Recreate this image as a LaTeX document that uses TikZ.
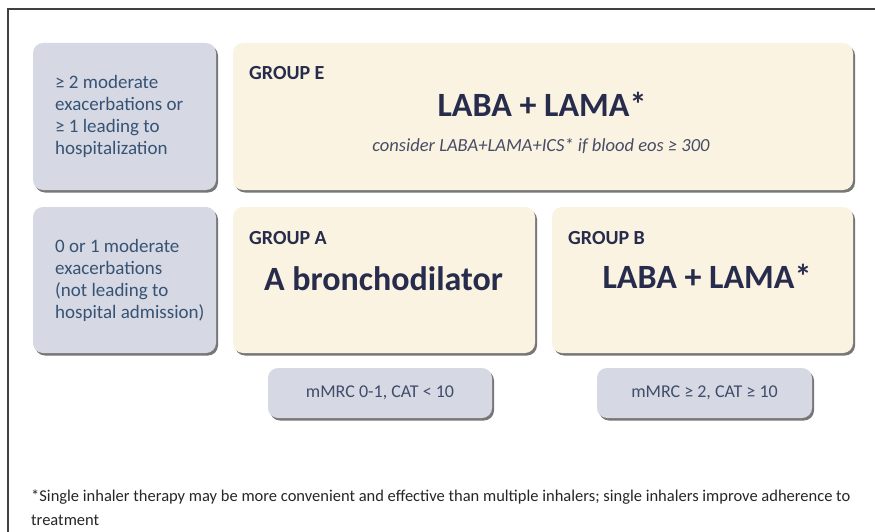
\documentclass[tikz,border=0pt]{standalone}
\usepackage{fontspec}
\setmainfont{Carlito}
\usetikzlibrary{shadows}
\definecolor{grayfill}{HTML}{D6D9E3}
\definecolor{creamfill}{HTML}{FBF3E1}
\definecolor{bluetext}{HTML}{365274}
\definecolor{navytext}{HTML}{272C4C}
\definecolor{mtext}{HTML}{3F4C6C}
\definecolor{shadowcol}{HTML}{4A4A4A}
\tikzset{
  boxbase/.style={rounded corners=10pt, draw=none,
    drop shadow={shadow xshift=2pt, shadow yshift=-2.5pt, fill=shadowcol, opacity=0.75}},
  graybox/.style={boxbase, fill=grayfill},
  creambox/.style={boxbase, fill=creamfill},
  sidetext/.style={text=bluetext, font=\fontsize{19}{22}\selectfont, align=left, anchor=west, inner sep=0pt},
  grouplabel/.style={text=navytext, font=\fontsize{20}{22}\selectfont\bfseries, anchor=west, inner sep=0pt},
  bigtext/.style={text=navytext, font=\fontsize{34}{38}\selectfont\bfseries, inner sep=0pt},
  mtextstyle/.style={text=mtext, font=\fontsize{18}{20}\selectfont, inner sep=0pt},
  foottext/.style={font=\fontsize{16.5}{25}\selectfont, anchor=base west, inner sep=0pt, text=black!85},
}
\begin{document}
\begin{tikzpicture}[x=1pt,y=-1pt]
\useasboundingbox (0,0) rectangle (875,532);
\fill[white] (0,0) rectangle (875,532);
\draw[line width=1.3pt, black!75] (8,532) -- (8,9) -- (875,9);

% boxes
\node[graybox, minimum width=183pt, minimum height=147pt] (L1) at (124.5,116.5) {};
\node[creambox, minimum width=620pt, minimum height=147pt] (E) at (543,116.5) {};
\node[graybox, minimum width=183pt, minimum height=146pt] (L2) at (124.5,280) {};
\node[creambox, minimum width=302pt, minimum height=146pt] (A) at (384,280) {};
\node[creambox, minimum width=301pt, minimum height=146pt] (B) at (702.5,280) {};
\node[graybox, minimum width=224pt, minimum height=50pt] (M1) at (380,393) {};
\node[graybox, minimum width=215pt, minimum height=50pt] (M2) at (704.5,393) {};

% side texts
\node[sidetext] (t1) at (55,116.5) {≥ 2 moderate\\exacerbations or\\≥ 1 leading to\\hospitalization};
\node[sidetext] (t2) at (55,280) {0 or 1 moderate\\exacerbations\\(not leading to\\hospital admission)};

% group E
\node[grouplabel, anchor=base west] (gE) at (249,80) {GROUP E};
\node[bigtext, anchor=base] (eMain) at (542,117) {LABA + LAMA*};
\node[text=navytext!85!white, font=\fontsize{18.5}{20}\selectfont\itshape, inner sep=0pt, anchor=base] (eSub) at (541,151) {consider LABA+LAMA+ICS* if blood eos ≥ 300};

% group A
\node[grouplabel, anchor=base west] (gA) at (249,244) {GROUP A};
\node[bigtext, anchor=base] (aMain) at (383.5,290) {A bronchodilator};

% group B
\node[grouplabel, anchor=base west] (gB) at (568,244) {GROUP B};
\node[bigtext, anchor=base] (bMain) at (707,288) {LABA + LAMA*};

% mMRC
\node[mtextstyle] (m1t) at (M1.center) {mMRC 0-1, CAT < 10};
\node[mtextstyle] (m2t) at (M2.center) {mMRC ≥ 2, CAT ≥ 10};

% footnote
\node[foottext] (foot1) at (31,501)
  {*Single inhaler therapy may be more convenient and effective than multiple inhalers; single inhalers improve adherence to};
\node[foottext] (foot2) at (31,525) {treatment};
\end{tikzpicture}
\end{document}
